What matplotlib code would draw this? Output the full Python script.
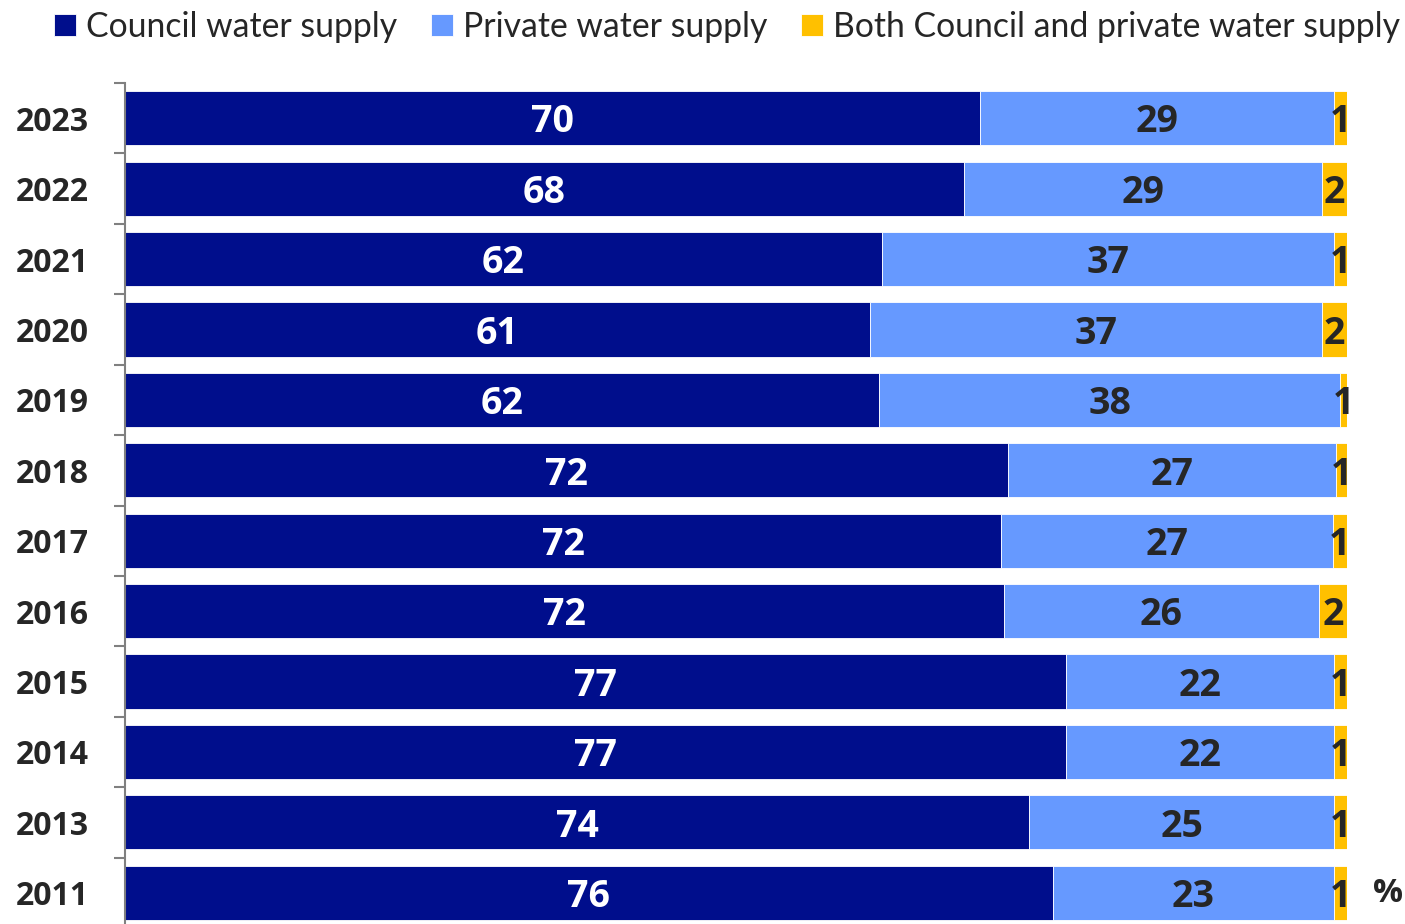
import numpy as np
import matplotlib
matplotlib.use("Agg")
import matplotlib.pyplot as plt

plt.rcParams['font.family'] = ['Lato', 'DejaVu Sans']

# survey years, top to bottom as in the chart
years = ["2023", "2022", "2021", "2020", "2019", "2018", "2017", "2016", "2015", "2014", "2013", "2011"]
council = [69.97, 68.66, 61.95, 60.97, 61.70, 72.26, 71.69, 71.93, 77.0, 77.0, 73.98, 75.94]
private = [28.97, 29.29, 36.99, 36.98, 37.73, 26.84, 27.16, 25.78, 21.94, 21.94, 24.96, 23.0]
both = [1.06, 2.05, 1.06, 2.05, 0.57, 0.9, 1.15, 2.29, 1.06, 1.06, 1.06, 1.06]
# printed labels (rounded)
lab_council = [70, 68, 62, 61, 62, 72, 72, 72, 77, 77, 74, 76]
lab_private = [29, 29, 37, 37, 38, 27, 27, 26, 22, 22, 25, 23]
lab_both = [1, 2, 1, 2, 1, 1, 1, 2, 1, 1, 1, 1]

series_names = ["Council water supply", "Private water supply", "Both Council and private water supply"]
colors = ["#000E8C", "#6699FF", "#FFC000"]
dark = "#262626"
bold_font = ["Open Sans", "DejaVu Sans"]

fig = plt.figure(figsize=(14.05, 9.24), dpi=100)
ax = fig.add_axes([125 / 1405, 1 - 928 / 924, 1222 / 1405, (928 - 83) / 924])

y = np.arange(len(years))
h = 0.77
left = np.zeros(len(years))
bars = []
for vals, col, name in zip([council, private, both], colors, series_names):
    b = ax.barh(y, vals, left=left, height=h, color=col, edgecolor="white", linewidth=0.6, label=name)
    bars.append(b)
    left = left + np.array(vals)

for i in range(len(years)):
    yy = y[i] + 0.06
    ax.text(council[i] / 2, yy, str(lab_council[i]), ha="center", va="center",
            color="white", fontsize=27, fontweight="bold", family=bold_font)
    ax.text(council[i] + private[i] / 2, yy, str(lab_private[i]), ha="center", va="center",
            color=dark, fontsize=27, fontweight="bold", family=bold_font)
    ax.text(council[i] + private[i] + both[i] / 2, yy, str(lab_both[i]), ha="center", va="center",
            color=dark, fontsize=27, fontweight="bold", family=bold_font)

ax.set_xlim(0, 100)
ax.set_ylim(len(years) - 0.5, -0.5)
ax.set_xticks([])
ax.set_yticks(y)
ax.set_yticklabels(years, fontsize=23, fontweight="bold", color=dark, family=bold_font)
ax.set_yticks(np.arange(-0.5, len(years), 1), minor=True)
ax.tick_params(axis="y", which="major", length=0, pad=26)
ax.tick_params(axis="y", which="minor", length=8, color="#808080", width=1.5)
for s in ["top", "right", "bottom"]:
    ax.spines[s].set_visible(False)
ax.spines["left"].set_color("#808080")
ax.spines["left"].set_linewidth(1.5)

ax.text(1388 / 1405, 1 - 893 / 924, "%", transform=fig.transFigure, ha="center", va="center",
        fontsize=24, fontweight="bold", color=dark, family=bold_font)

fig.legend(handles=bars, labels=series_names, loc="center", bbox_to_anchor=(727 / 1405, 1 - 27 / 924),
           ncol=3, frameon=False, fontsize=24.3, handlelength=0.65, handleheight=0.65,
           handletextpad=0.3, columnspacing=1.0, labelcolor=dark, borderpad=0)

fig.savefig("out.png", dpi=100)
